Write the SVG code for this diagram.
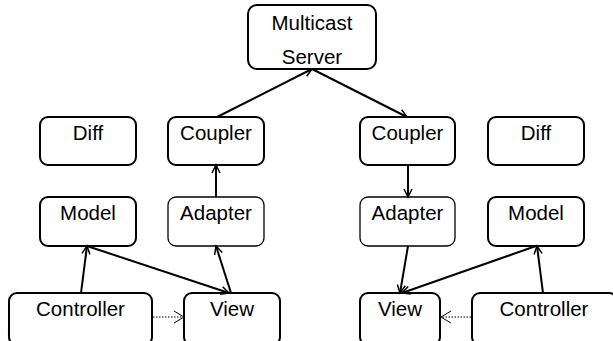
<svg xmlns="http://www.w3.org/2000/svg" width="613" height="341" viewBox="0 0 613 341">
<style>
.box{fill:#fff;stroke:#000;stroke-width:2}
.thin{stroke-width:1.3}
text{font-family:"Liberation Sans",Arial,sans-serif;font-size:20.5px;fill:#000;text-anchor:middle}
.e{fill:none;stroke:#000;stroke-width:2}
.d{fill:none;stroke:#000;stroke-width:1;stroke-dasharray:1.5 1.5}
</style>
<defs>
<marker id="a" markerUnits="userSpaceOnUse" markerWidth="12" markerHeight="12" refX="9" refY="5" orient="auto" viewBox="0 0 12 10">
<path d="M1,1 L9,5 L1,9" fill="none" stroke="#000" stroke-width="1.5"/>
</marker>
<marker id="ad" markerUnits="userSpaceOnUse" markerWidth="14" markerHeight="16" refX="11" refY="7" orient="auto" viewBox="0 0 14 14">
<path d="M1,1 L11,7 L1,13" fill="none" stroke="#000" stroke-width="1"/>
</marker>
</defs>
<g id="server"><rect class="box" x="248" y="5" width="128" height="64" rx="9"/><text x="312" y="30">Multicast</text><text x="312" y="64">Server</text></g>
<g id="diffL"><rect class="box" x="40" y="117" width="96" height="48" rx="8"/><text x="88" y="140">Diff</text></g>
<g id="couplerL"><rect class="box" x="168" y="117" width="96" height="48" rx="8"/><text x="216" y="140">Coupler</text></g>
<g id="couplerR"><rect class="box" x="360" y="117" width="95" height="48" rx="8"/><text x="407.5" y="140">Coupler</text></g>
<g id="diffR"><rect class="box" x="488" y="117" width="96" height="48" rx="8"/><text x="536" y="140">Diff</text></g>
<g id="modelL"><rect class="box" x="40" y="197" width="96" height="49" rx="8"/><text x="88" y="220">Model</text></g>
<g id="adapterL"><rect class="box thin" x="168" y="197" width="96" height="49" rx="8"/><text x="216" y="220">Adapter</text></g>
<g id="adapterR"><rect class="box thin" x="360" y="197" width="95" height="49" rx="8"/><text x="407.5" y="220">Adapter</text></g>
<g id="modelR"><rect class="box" x="488" y="197" width="96" height="49" rx="8"/><text x="536" y="220">Model</text></g>
<g id="controllerL"><rect class="box" x="9" y="293" width="143" height="52" rx="8"/><text x="80.5" y="316">Controller</text></g>
<g id="viewL"><rect class="box" x="184" y="293" width="96" height="52" rx="8"/><text x="232" y="316">View</text></g>
<g id="viewR"><rect class="box" x="360" y="293" width="80" height="52" rx="8"/><text x="400" y="316">View</text></g>
<g id="controllerR"><rect class="box" x="472" y="293" width="145" height="52" rx="8"/><text x="544" y="316">Controller</text></g>
<g id="connectors">
<path class="e" d="M217,117 L312,69" marker-end="url(#a)"/>
<path class="e" d="M312,69 L407,117" marker-end="url(#a)"/>
<path class="e" d="M216,197 L216,165" marker-end="url(#a)"/>
<path class="e" d="M408,165 L408,197" marker-end="url(#a)"/>
<path class="e" d="M81,293 L87,246" marker-end="url(#a)"/>
<path class="e" d="M87,246 L229,293" marker-end="url(#a)"/>
<path class="e" d="M231,293 L216,246" marker-end="url(#a)"/>
<path class="d" d="M153,317 L184,317" marker-end="url(#ad)"/>
<path class="e" d="M408,246 L400,293" marker-end="url(#a)"/>
<path class="e" d="M536,246 L402,293" marker-end="url(#a)"/>
<path class="e" d="M543,293 L537,246" marker-end="url(#a)"/>
<path class="d" d="M471,317 L441,317" marker-end="url(#ad)"/>
</g>
</svg>
